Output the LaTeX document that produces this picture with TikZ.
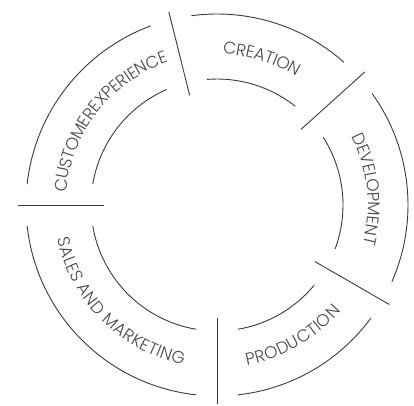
\documentclass[tikz,border=0pt]{standalone}
\usepackage{fontspec}
\usetikzlibrary{decorations.text}
\newfontfamily\labelfont{Poppins Light}
\definecolor{linegray}{HTML}{3A3A3A}
\definecolor{txtgray}{HTML}{4A4A4A}
\tikzset{
  ringline/.style={draw=linegray, line width=0.9pt},
  seprule/.style={draw=linegray, line width=0.9pt},
  ringtext/.style={decorate, decoration={text along path, text align=center, raise=-6pt,
     text={|\color{txtgray}\labelfont\fontsize{17}{20}\selectfont|#1}}}
}
\begin{document}
\begin{tikzpicture}[x=1pt,y=1pt]
\useasboundingbox (-217,-200) rectangle (197,205);
\def\Ro{191}\def\Ri{126}\def\Rt{157}
\def\go{6.3}\def\gi{9.55}
% separators
\foreach \a in {-30,42,104,180,270}{
  \coordinate (s\a a) at (\a:113);
  \coordinate (s\a b) at (\a:199);
  \draw[seprule] (s\a a) -- (s\a b);
}
% arcs between separators
\foreach \a/\b in {-30/42,42/104,104/180,180/270,270/330}{
  \draw[ringline] ({\a+\go}:\Ro) arc[start angle={\a+\go}, end angle={\b-\go}, radius=\Ro];
  \draw[ringline] ({\a+\gi}:\Ri) arc[start angle={\a+\gi}, end angle={\b-\gi}, radius=\Ri];
}
% labels
\path[ringtext={CUSTOMEREXPERIENCE}] (180:\Rt) arc[start angle=180, end angle=104, radius=\Rt];
\path[ringtext={CREATION}] (104:\Rt) arc[start angle=104, end angle=42, radius=\Rt];
\path[ringtext={DEVELOPMENT}] (42:\Rt) arc[start angle=42, end angle=-30, radius=\Rt];
\path[ringtext={PRODUCTION}] (270:\Rt) arc[start angle=270, end angle=330, radius=\Rt];
\path[ringtext={SALES AND MARKETING}] (180:\Rt) arc[start angle=180, end angle=270, radius=\Rt];
\end{tikzpicture}
\end{document}
